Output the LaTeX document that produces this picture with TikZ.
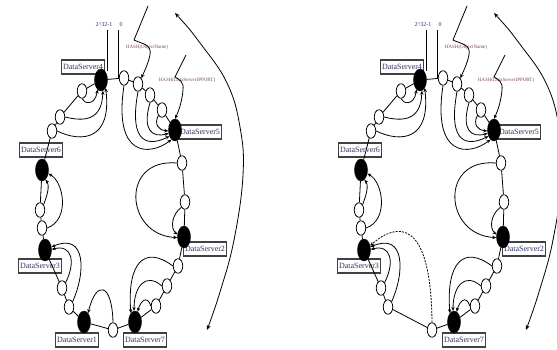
\documentclass[tikz,border=0pt]{standalone}
\usepackage{fontspec}
\setmainfont{Liberation Serif}
\usetikzlibrary{shapes.geometric,arrows.meta}
\definecolor{lbltext}{rgb}{0.18,0.2,0.38}
\definecolor{hashtext}{rgb}{0.5,0.28,0.4}
\tikzset{
  srv/.style={ellipse, fill=black, draw=black, minimum width=13pt, minimum height=22pt, inner sep=0pt},
  obj/.style={ellipse, fill=white, draw=black, line width=0.75pt, minimum width=9.5pt, minimum height=14.5pt, inner sep=0pt},
  lbl/.style={rectangle, draw=black!75, line width=1.1pt, fill=white,
    text=lbltext, font=\fontsize{8}{9}\selectfont, inner sep=1.8pt, minimum height=14pt},
  ringline/.style={line width=0.8pt},
  maparrow/.style={line width=0.8pt, -{Stealth[length=4pt,width=3.4pt]}},
  dasharrow/.style={maparrow, dashed, dash pattern=on 2pt off 1.2pt},
  hashtxt/.style={text=hashtext, font=\fontsize{5}{6}\selectfont, inner sep=0pt},
  ringtxt/.style={text=lbltext, font=\fontsize{6}{7}\selectfont, inner sep=0pt},
  bigarc/.style={line width=0.8pt, {Stealth[length=5pt,width=4pt]}-{Stealth[length=5pt,width=4pt]}}
}
\newcommand\ringpanel[2]{%
\begin{scope}[xshift=#1, name prefix=P#2-]
  % texts at the top
  \node[ringtxt] (t1) at (104,25) {2\textasciicircum 32-1};
  \node[ringtxt] (t0) at (121,25) {0};
  \node[hashtxt] (h1t) at (147,47) {HASH(ObjectName)};
  \node[hashtxt] (h2t) at (187,80) {HASH(DataServerIPPORT)};
  \coordinate (m1) at (107,30);
  \coordinate (m2) at (107,71);
  \coordinate (n1) at (118,30);
  \coordinate (n2) at (118,78.2);
  % label boxes
  \node[lbl] (l4) at (83,67) {DataServer4};
  \node[lbl] (l5) at (200,132) {DataServer5};
  \node[lbl] (l2) at (205,249) {DataServer2};
  \node[lbl] (l7) at (145,340) {DataServer7};
  \node[lbl] (l3) at (40,266) {DataServer3};
  \node[lbl] (l6) at (41,150) {DataServer6};
  \ifnum#2=0 \node[lbl] (l1) at (77,340) {DataServer1};\fi
  % servers
  \node[srv] (s4) at (101,80) {};
  \node[srv] (s5) at (175,130) {};
  \node[srv] (s2) at (184,237) {};
  \node[srv] (s7) at (135,322) {};
  \node[srv] (s3) at (45,250) {};
  \node[srv] (s6) at (42,170) {};
  \ifnum#2=0 \node[srv] (s1) at (84,322) {};\fi
  % objects
  \node[obj] (a1) at (124,78) {};
  \node[obj] (a2) at (138,84) {};
  \node[obj] (a3) at (150,95) {};
  \node[obj] (a4) at (162,110) {};
  \node[obj] (b1) at (182,163) {};
  \node[obj] (b2) at (185,202) {};
  \node[obj] (c1) at (178,266) {};
  \node[obj] (c2) at (167,286) {};
  \node[obj] (c3) at (156,306) {};
  \node[obj] (d1) at (113,330) {};
  \node[obj] (e1) at (69,307) {};
  \node[obj] (e2) at (62,288) {};
  \node[obj] (f1) at (42,228) {};
  \node[obj] (f2) at (40,210) {};
  \node[obj] (g1) at (52,131) {};
  \node[obj] (g2) at (60,117) {};
  \node[obj] (g3) at (82,91) {};
  % ring
  \draw[ringline] (s4)--(a1)--(a2)--(a3)--(a4)--(s5)--(b1)--(b2)--(s2)--(c1)--(c2)--(c3)--(s7)--(d1);
  \ifnum#2=0 \draw[ringline] (d1)--(s1)--(e1);\else \draw[ringline] (d1)--(e1);\fi
  \draw[ringline] (e1)--(e2)--(s3)--(f1)--(f2)--(s6)--(g1)--(g2)--(g3)--(s4);
  \draw[ringline] (m1)--(m2);
  \draw[ringline] (n1)--(n2);
  % hash inputs
  \coordinate (p1) at (148,6);
  \coordinate (p2) at (134,40);
  \draw[maparrow] (p1) -- (p2) .. controls (142,44) and (152,44) .. (150,55) .. controls (148,64) and (145,70) .. (a2.60);
  \coordinate (q1) at (186,55);
  \coordinate (q2) at (175,77);
  \draw[maparrow] (q1) -- (q2) .. controls (180,80) and (184,82) .. (183,90) .. controls (182,100) and (180,108) .. (s5.north);
  % mapping arrows
  \draw[maparrow] (a1.south) .. controls (113,158) and (150,156) .. (s5.250);
  \draw[maparrow] (a2.south) .. controls (128,146) and (150,146) .. (s5.228);
  \draw[maparrow] (a3.south) .. controls (142,130) and (152,138) .. (s5.208);
  \draw[maparrow] (a4.south west) .. controls (154,124) and (158,130) .. (s5.188);
  \draw[maparrow] (b1.west) .. controls (120,158) and (125,235) .. (s2.185);
  \draw[maparrow] (b2.south west) .. controls (172,214) and (170,228) .. (s2.160);
  \draw[maparrow] (c1.west) .. controls (145,245) and (127,262) .. (s7.115);
  \draw[maparrow] (c2.west) .. controls (146,272) and (134,286) .. (s7.95);
  \draw[maparrow] (c3.west) .. controls (147,294) and (140,302) .. (s7.75);
  \ifnum#2=0
    \draw[maparrow] (d1.north) .. controls (112,282) and (96,280) .. (s1.65);
  \else
    \draw[dasharrow] (d1.north) .. controls (112,218) and (78,222) .. (s3.35);
  \fi
  \draw[maparrow] (e1.north east) .. controls (86,272) and (86,232) .. (s3.25);
  \draw[maparrow] (e2.north east) .. controls (76,262) and (72,244) .. (s3.5);
  \draw[maparrow] (f2.north east) .. controls (47,196) and (50,186) .. (s6.290);
  \draw[maparrow] (f1.east) .. controls (70,220) and (64,182) .. (s6.330);
  \draw[maparrow] (g3.south) .. controls (84,104) and (95,106) .. (s4.250);
  \draw[maparrow] (g2.east) .. controls (85,122) and (102,120) .. (s4.280);
  \draw[maparrow] (g1.east) .. controls (82,143) and (112,140) .. (s4.300);
  % direction arc
  \draw[bigarc] plot[smooth, tension=0.7] coordinates {(175,13) (200,43) (227,83) (240,127) (243,175) (234,240) (220,292) (207,330)};
\end{scope}}
\begin{document}
\begin{tikzpicture}[x=1pt,y=-1pt]
  \useasboundingbox (0,0) rectangle (557,350);
  \clip (0,0) rectangle (557,350);
  \fill[white] (0,0) rectangle (557,350);
  \ringpanel{0pt}{0}
  \ringpanel{319pt}{1}
\end{tikzpicture}
\end{document}
